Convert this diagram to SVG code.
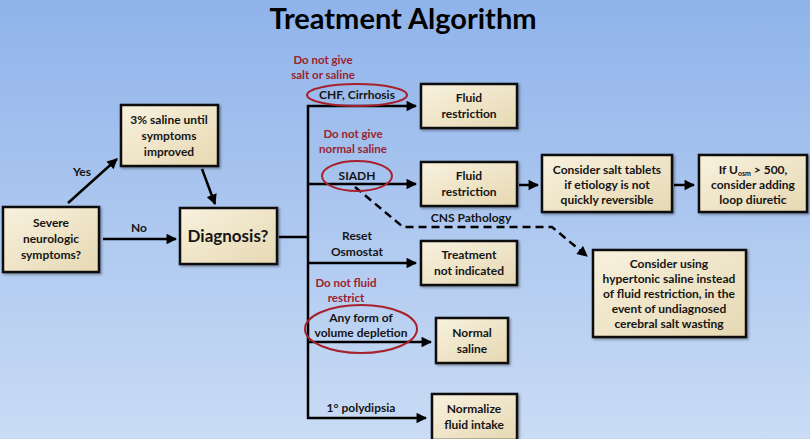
<svg xmlns="http://www.w3.org/2000/svg" width="810" height="439" viewBox="0 0 810 439">
<defs>
<linearGradient id="bg" x1="0" y1="0" x2="0" y2="1">
<stop offset="0" stop-color="#8fb3ea"/>
<stop offset="1" stop-color="#cadcf5"/>
</linearGradient>
<linearGradient id="box" x1="0" y1="0" x2="1" y2="1">
<stop offset="0" stop-color="#f8f1de"/>
<stop offset="1" stop-color="#e6d8b2"/>
</linearGradient>
<marker id="ah" viewBox="0 0 10 10" refX="9" refY="5" markerWidth="4.4" markerHeight="4.2" orient="auto" markerUnits="strokeWidth">
<path d="M0,0 L10,5 L0,10 z" fill="#000"/>
</marker>
<filter id="sh" x="-10%" y="-10%" width="130%" height="130%">
<feDropShadow dx="1.5" dy="1.5" stdDeviation="1" flood-color="#000" flood-opacity="0.35"/>
</filter>
</defs>
<style>
.node rect{fill:url(#box);stroke:#111;stroke-width:2.5;filter:url(#sh)}
.t{font-family:Lato,"Liberation Sans",sans-serif;font-weight:bold;font-size:12px;fill:#151515;text-anchor:middle}
.r{font-family:Lato,"Liberation Sans",sans-serif;font-weight:bold;font-size:11.5px;fill:#9b2230;text-anchor:middle}
.ln{stroke:#000;stroke-width:2.5;fill:none}
.ar{stroke:#000;stroke-width:2.5;fill:none;marker-end:url(#ah)}
.da{stroke:#000;stroke-width:2.5;fill:none;stroke-dasharray:8,5}
.ov{fill:none;stroke:#a8202c;stroke-width:2}
</style>
<rect width="810" height="439" fill="url(#bg)"/>
<text x="403" y="29" style="font-family:Lato,'Liberation Sans',sans-serif;font-weight:bold;font-size:29px;fill:#000;text-anchor:middle">Treatment Algorithm</text>

<g id="connectors">
<line class="ar" x1="68" y1="203" x2="117" y2="159"/>
<line class="ar" x1="103" y1="239" x2="176" y2="239"/>
<line class="ar" x1="202" y1="169" x2="215" y2="204"/>
<line class="ln" x1="279" y1="237" x2="308" y2="237"/>
<line class="ln" x1="308" y1="105" x2="308" y2="419"/>
<line class="ar" x1="307" y1="106" x2="416" y2="106"/>
<line class="ar" x1="307" y1="184" x2="416" y2="184"/>
<line class="ar" x1="307" y1="263" x2="416" y2="263"/>
<line class="ar" x1="307" y1="342" x2="431" y2="342"/>
<line class="ar" x1="307" y1="418" x2="426" y2="418"/>
<line class="ar" x1="519" y1="185" x2="538" y2="185"/>
<line class="ar" x1="674" y1="185" x2="694" y2="185"/>
<polyline class="da" points="355,187 403,227 552,227 587,256" marker-end="url(#ah)"/>
<text class="t" x="82" y="176">Yes</text>
<text class="t" x="139" y="232">No</text>
<text class="t" x="471" y="222">CNS Pathology</text>
<text class="t" x="357" y="240">Reset</text>
<text class="t" x="357" y="256">Osmostat</text>
<text class="t" x="361" y="412">1° polydipsia</text>
</g>

<g id="n-severe" class="node">
<rect x="3" y="207" width="96" height="65"/>
<text class="t" x="51" y="227">Severe</text>
<text class="t" x="51" y="243">neurologic</text>
<text class="t" x="51" y="259">symptoms?</text>
</g>
<g id="n-saline3" class="node">
<rect x="121" y="105" width="97" height="61"/>
<text class="t" x="169" y="124">3% saline until</text>
<text class="t" x="169" y="140">symptoms</text>
<text class="t" x="169" y="156">improved</text>
</g>
<g id="n-diagnosis" class="node">
<rect x="180" y="208" width="97" height="56"/>
<text class="t" x="228" y="242" style="font-size:17px">Diagnosis?</text>
</g>

<g id="n-chf">
<text class="r" x="323" y="64">Do not give</text>
<text class="r" x="323" y="79">salt or saline</text>
<ellipse class="ov" cx="357" cy="95" rx="50" ry="11"/>
<text class="t" x="357" y="99">CHF, Cirrhosis</text>
</g>
<g id="n-fluid1" class="node">
<rect x="421" y="84" width="96" height="44"/>
<text class="t" x="469" y="102">Fluid</text>
<text class="t" x="469" y="118">restriction</text>
</g>

<g id="n-siadh">
<text class="r" x="353" y="138">Do not give</text>
<text class="r" x="353" y="153">normal saline</text>
<ellipse class="ov" cx="357" cy="176" rx="35" ry="15"/>
<text class="t" x="357" y="180">SIADH</text>
</g>
<g id="n-fluid2" class="node">
<rect x="421" y="162" width="96" height="44"/>
<text class="t" x="469" y="180">Fluid</text>
<text class="t" x="469" y="196">restriction</text>
</g>
<g id="n-salt" class="node">
<rect x="542" y="155" width="130" height="57"/>
<text class="t" x="607" y="174">Consider salt tablets</text>
<text class="t" x="607" y="189">if etiology is not</text>
<text class="t" x="607" y="204">quickly reversible</text>
</g>
<g id="n-uosm" class="node">
<rect x="699" y="155" width="108" height="57"/>
<text class="t" x="753" y="174">If U<tspan style="font-size:7px" dy="2">osm</tspan><tspan dy="-2"> &gt; 500,</tspan></text>
<text class="t" x="753" y="189">consider adding</text>
<text class="t" x="753" y="204">loop diuretic</text>
</g>
<g id="n-hyper" class="node">
<rect x="593" y="250" width="153" height="87"/>
<text class="t" x="669" y="268">Consider using</text>
<text class="t" x="669" y="283">hypertonic saline instead</text>
<text class="t" x="669" y="298">of fluid restriction, in the</text>
<text class="t" x="669" y="313">event of undiagnosed</text>
<text class="t" x="669" y="328">cerebral salt wasting</text>
</g>
<g id="n-notind" class="node">
<rect x="421" y="241" width="96" height="44"/>
<text class="t" x="469" y="259">Treatment</text>
<text class="t" x="469" y="275">not indicated</text>
</g>

<g id="n-volume">
<text class="r" x="346" y="287">Do not fluid</text>
<text class="r" x="346" y="302">restrict</text>
<ellipse class="ov" cx="361" cy="329" rx="56" ry="24"/>
<text class="t" x="361" y="322">Any form of</text>
<text class="t" x="361" y="337">volume depletion</text>
</g>
<g id="n-normal" class="node">
<rect x="436" y="318" width="72" height="45"/>
<text class="t" x="472" y="337">Normal</text>
<text class="t" x="472" y="353">saline</text>
</g>
<g id="n-normalize" class="node">
<rect x="432" y="394" width="85" height="46"/>
<text class="t" x="474" y="413">Normalize</text>
<text class="t" x="474" y="429">fluid intake</text>
</g>
</svg>
